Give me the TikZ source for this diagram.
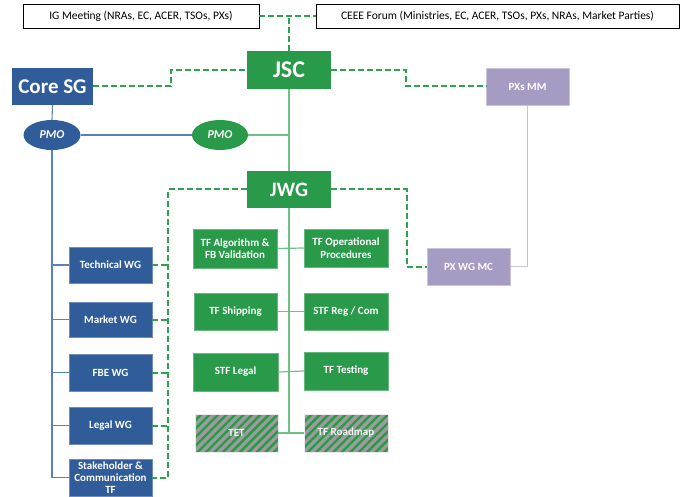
\documentclass[tikz,border=0pt]{standalone}
\usepackage{fontspec}
\setmainfont{Carlito}
\usetikzlibrary{shapes.geometric,patterns.meta}
\definecolor{bbox}{HTML}{305C9A}
\definecolor{gbox}{HTML}{29994A}
\definecolor{pbox}{HTML}{A69BC2}
\definecolor{bline}{HTML}{5B7FB8}
\definecolor{gline}{HTML}{6FBF86}
\definecolor{pline}{HTML}{C8C0DC}
\definecolor{gdash}{HTML}{2EA24D}
\definecolor{hgrey}{HTML}{9C9C9C}
\tikzset{
  topbox/.style={draw=black, line width=0.8pt, fill=white, minimum height=24pt, inner sep=0pt, font=\fontsize{11.5}{13}\selectfont},
  bigbox/.style={minimum height=38pt, inner sep=0pt, text=white, font=\fontsize{21}{24}\selectfont\bfseries},
  wbox/.style={fill=bbox, draw=bbox!70!white, line width=0.5pt, text=white, minimum width=83pt, minimum height=37pt, inner sep=1pt, align=center, font=\fontsize{11}{12.5}\selectfont\bfseries},
  tfbox/.style={fill=gbox, draw=gbox!70!white, line width=0.5pt, text=white, minimum width=84pt, minimum height=38pt, inner sep=1pt, align=center, font=\fontsize{11}{12.5}\selectfont\bfseries},
  hbox/.style={preaction={fill=hgrey}, pattern={Lines[angle=45,distance=6pt,line width=2.4pt]}, pattern color=gbox, draw=white!85!gray, line width=0.5pt, text=white!92!gray, minimum width=84pt, minimum height=38pt, inner sep=1pt, align=center, font=\fontsize{11}{12.5}\selectfont\bfseries},
  pxbox/.style={fill=pbox, draw=pbox!60!white, line width=0.5pt, text=white, minimum width=83pt, minimum height=37pt, inner sep=1pt, font=\fontsize{11}{12.5}\selectfont\bfseries},
  pmo/.style={ellipse, minimum width=57pt, minimum height=30pt, inner sep=0pt, text=white, font=\fontsize{12}{13}\selectfont\bfseries\itshape},
  gdashed/.style={draw=gdash, line width=2pt, dash pattern=on 6pt off 3pt},
  bl/.style={draw=bline, line width=1.1pt},
  gl/.style={draw=gline, line width=1.2pt},
  pl/.style={draw=pline, line width=1.3pt}
}
\begin{document}
\begin{tikzpicture}[x=1pt,y=-1pt]
\useasboundingbox (0,0) rectangle (688,497);
% top boxes
\node[topbox, minimum width=236pt] (ig) at (141,16) {IG Meeting (NRAs, EC, ACER, TSOs, PXs)};
\node[topbox, minimum width=363pt] (ceee) at (497.5,16) {CEEE Forum (Ministries, EC, ACER, TSOs, PXs, NRAs, Market Parties)};
% main boxes
\node[bigbox, fill=gbox, minimum width=84pt, font=\fontsize{24}{26}\selectfont\bfseries] (jsc) at (289,70) {JSC};
\node[bigbox, fill=bbox, minimum width=81pt, minimum height=37pt] (core) at (52.5,86.5) {Core SG};
\node[pxbox] (pxsmm) at (527.5,86.5) {PXs MM};
\node[pmo, fill=bbox] (pmob) at (52,135) {PMO};
\node[pmo, fill=gbox, minimum width=56pt] (pmog) at (220,135) {PMO};
\node[bigbox, fill=gbox, minimum width=84pt, minimum height=37pt, font=\fontsize{20.5}{24}\selectfont\bfseries] (jwg) at (289,189.5) {JWG};
\node[pxbox] (pxwg) at (468.5,266.5) {PX WG MC};
% blue WGs
\node[wbox, minimum height=36pt] (tech) at (110.5,265) {Technical WG};
\node[wbox, minimum height=35pt] (market) at (110.5,319.5) {Market WG};
\node[wbox] (fbe) at (110.5,372.5) {FBE WG};
\node[wbox] (legal) at (110.5,425.5) {Legal WG};
\node[wbox, font=\fontsize{11}{12}\selectfont\bfseries] (stake) at (110.5,477.5) {Stakeholder \&\\Communication\\TF};
% task forces
\node[tfbox, minimum height=39pt] (tf1) at (235,248.5) {TF Algorithm \&\\FB Validation};
\node[tfbox] (tf2) at (346,248) {TF Operational\\Procedures};
\node[tfbox, minimum width=83pt, minimum height=37pt] (ship) at (235.5,311.5) {TF Shipping};
\node[tfbox, minimum height=37pt] (streg) at (346,311.5) {STF Reg / Com};
\node[tfbox, minimum width=85pt] (stfl) at (235.5,372) {STF Legal};
\node[tfbox] (test) at (346,371) {TF Testing};
\node[hbox, minimum width=83pt] (tet) at (236.5,433) {TET};
\node[hbox] (road) at (346,433) {TF Roadmap};
% coordinates
\coordinate (spinebot) at (289,433);
\coordinate (jx1) at (171,0);
\coordinate (jx2) at (406,0);
\coordinate (jx3) at (407,0);
\coordinate (dx) at (168,0);
% dashed links
\draw[gdashed] (ig.east) -- (ceee.west);
\draw[gdashed] (jsc.north) -- (jsc.north |- ig.east);
\draw[gdashed] (core.east) -- (core.east -| jx1) -- (jsc.west -| jx1) -- (jsc.west);
\draw[gdashed] (jsc.east) -- (jsc.east -| jx2) -- (pxsmm.west -| jx2) -- (pxsmm.west);
\draw[gdashed] (jwg.east) -- (jwg.east -| jx3) -- (pxwg.west -| jx3) -- (pxwg.west);
\draw[gdashed] (jwg.west) -- (jwg.west -| dx) -- (stake.east -| dx) -- (stake.east);
\foreach \n in {tech,market,fbe,legal} \draw[gdashed] (\n.east) -- (\n.east -| dx);
% purple
\draw[pl] (pxsmm.south) -- (pxsmm.south |- pxwg.east) -- (pxwg.east);
% blue
\draw[bl] (core.south) -- (pmob.north);
\draw[bl] (pmob.south) -- (pmob.south |- stake.west) -- (stake.west);
\foreach \n in {tech,market,fbe,legal} \draw[bl] (\n.west) -- (\n.west -| pmob.south);
\draw[bl] (pmob.east) -- (pmog.west);
% green spine
\draw[gl] (jsc.south) -- (jwg.north);
\draw[gl] (jwg.south) -- (spinebot);
\draw[gl] (pmog.east) -- (pmog.east -| jsc.south);
\draw[gl] (tf1.east) -- (tf2.west);
\draw[gl] (ship.east) -- (streg.west);
\draw[gl] (stfl.east) -- (test.west);
\draw[gl] (tet.east) -- (road.west);
\end{tikzpicture}
\end{document}
